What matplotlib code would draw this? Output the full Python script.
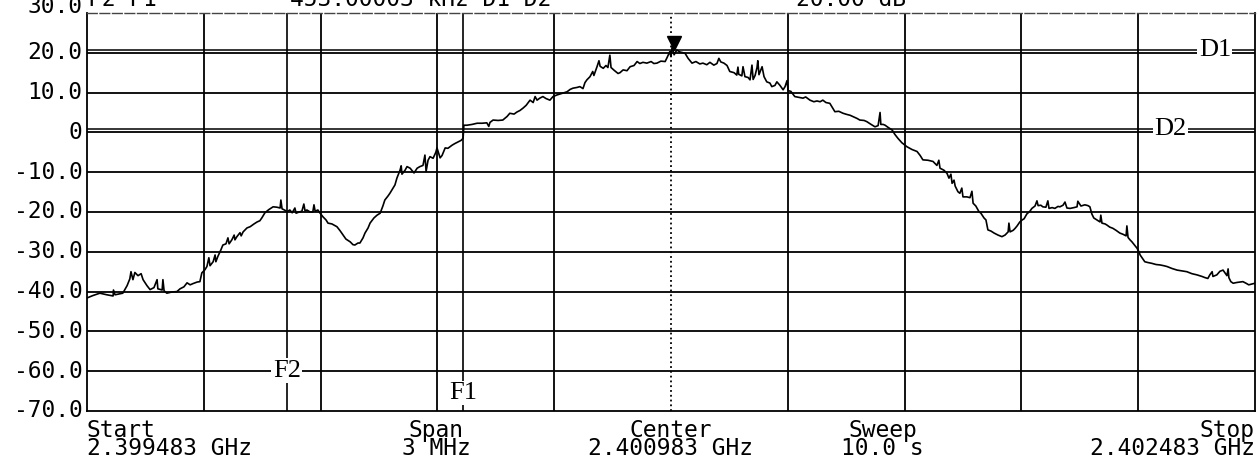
import matplotlib
matplotlib.use("Agg")
import matplotlib.pyplot as plt
from matplotlib.transforms import offset_copy

# sweep 2.399483 .. 2.402483 GHz, x given as offset from start in kHz
START_LABEL = "2.399483 GHz"
SPAN_LABEL = "3 MHz"
CENTER_LABEL = "2.400983 GHz"
SWEEP_LABEL = "10.0 s"
STOP_LABEL = "2.402483 GHz"
SPAN_KHZ = 3000

freq_khz = [
    0, 15, 33, 51, 67, 68, 72, 92, 103, 110, 113, 118, 123, 131, 139, 144,
    154, 162, 172, 180, 182, 193, 195, 198, 205, 218, 231, 239, 249, 257,
    265, 272, 283, 290, 295, 303, 308, 313, 316, 324, 329, 331, 336, 344,
    349, 357, 362, 365, 372, 378, 380, 385, 393, 396, 401, 411, 419, 429,
    437, 444, 449, 457, 467, 478, 488, 496, 498, 501, 509, 514, 521, 527,
    534, 537, 545, 552, 557, 560, 565, 573, 580, 583, 586, 593, 598, 606,
    614, 619, 629, 642, 650, 658, 665, 676, 683, 688, 696, 701, 709, 714,
    722, 727, 737, 745, 753, 760, 765, 773, 778, 786, 791, 796, 804, 807,
    809, 817, 822, 830, 840, 848, 855, 863, 868, 871, 876, 881, 889, 896,
    899, 904, 907, 912, 920, 927, 938, 945, 953, 961, 966, 968, 976, 989,
    1002, 1015, 1027, 1032, 1035, 1043, 1056, 1068, 1079, 1086, 1097, 1104,
    1112, 1120, 1128, 1138, 1146, 1151, 1156, 1163, 1171, 1179, 1189, 1197,
    1207, 1220, 1233, 1241, 1248, 1259, 1266, 1274, 1279, 1284, 1292, 1299,
    1302, 1310, 1315, 1318, 1326, 1333, 1338, 1343, 1346, 1354, 1364, 1369,
    1377, 1387, 1395, 1405, 1413, 1420, 1428, 1438, 1449, 1456, 1464, 1474,
    1485, 1490, 1497, 1500, 1503, 1508, 1515, 1523, 1536, 1544, 1554, 1564,
    1574, 1582, 1592, 1600, 1610, 1618, 1623, 1628, 1636, 1644, 1651, 1662,
    1669, 1672, 1674, 1682, 1685, 1690, 1698, 1703, 1708, 1711, 1716, 1721,
    1723, 1726, 1734, 1739, 1746, 1754, 1759, 1767, 1772, 1780, 1788, 1793,
    1798, 1801, 1808, 1818, 1829, 1839, 1846, 1857, 1867, 1875, 1883, 1890,
    1898, 1908, 1916, 1921, 1931, 1942, 1952, 1960, 1967, 1978, 1985, 1996,
    2003, 2014, 2024, 2032, 2037, 2039, 2045, 2050, 2057, 2068, 2075, 2083,
    2093, 2106, 2119, 2132, 2140, 2147, 2160, 2173, 2183, 2188, 2191, 2201,
    2209, 2214, 2219, 2222, 2227, 2230, 2237, 2242, 2247, 2250, 2260, 2268,
    2273, 2276, 2283, 2291, 2296, 2304, 2309, 2314, 2322, 2330, 2340, 2350,
    2358, 2366, 2368, 2371, 2379, 2384, 2389, 2396, 2402, 2407, 2414, 2422,
    2427, 2435, 2440, 2443, 2450, 2455, 2463, 2468, 2471, 2479, 2486, 2494,
    2499, 2507, 2512, 2517, 2525, 2535, 2543, 2545, 2553, 2563, 2571, 2576,
    2581, 2586, 2594, 2602, 2604, 2607, 2615, 2620, 2627, 2635, 2643, 2653,
    2661, 2669, 2671, 2674, 2679, 2684, 2692, 2697, 2702, 2705, 2710, 2717,
    2725, 2735, 2746, 2756, 2766, 2774, 2787, 2800, 2813, 2825, 2838, 2851,
    2864, 2872, 2879, 2884, 2890, 2892, 2902, 2910, 2918, 2923, 2928, 2931,
    2933, 2938, 2944, 2954, 2962, 2969, 2977, 2984, 2992, 3000,
]

level_db = [
    -41.6, -41.0, -40.4, -40.8, -41.1, -39.6, -40.8, -40.4, -38.5, -36.8,
    -35.0, -37.0, -35.2, -36.0, -35.5, -37.0, -38.5, -39.5, -39.0, -37.0,
    -39.3, -39.6, -37.0, -39.8, -40.4, -40.1, -40.0, -39.3, -38.8, -37.8,
    -38.3, -38.0, -37.6, -37.5, -35.3, -34.5, -33.7, -31.5, -33.5, -32.5,
    -30.8, -32.5, -31.2, -29.5, -28.3, -28.0, -26.5, -28.0, -27.0, -25.8,
    -27.0, -26.2, -25.2, -26.0, -25.0, -24.0, -23.7, -23.0, -22.5, -22.2,
    -21.5, -20.2, -19.4, -18.7, -18.8, -19.0, -17.0, -19.2, -19.6, -19.9,
    -19.5, -20.2, -19.0, -20.3, -20.0, -19.8, -18.0, -19.7, -19.5, -20.0,
    -20.0, -18.2, -19.8, -19.5, -20.2, -21.2, -22.0, -22.8, -23.0, -23.7,
    -24.7, -25.8, -26.8, -27.5, -28.2, -28.3, -27.8, -27.8, -26.5, -25.3,
    -24.0, -22.8, -21.5, -20.8, -20.3, -18.5, -17.0, -16.0, -15.3, -14.0,
    -13.2, -11.5, -9.5, -8.4, -10.5, -9.5, -8.6, -9.0, -10.2, -9.0,
    -8.6, -8.3, -5.7, -9.8, -7.0, -6.1, -6.5, -5.0, -3.9, -5.5,
    -6.4, -5.8, -3.9, -4.0, -3.2, -2.8, -2.4, -2.0, -1.5, 1.8,
    1.8, 2.0, 2.3, 2.3, 2.4, 1.5, 2.5, 3.1, 3.0, 3.1,
    4.0, 4.8, 4.6, 5.1, 5.5, 6.1, 6.8, 8.1, 7.5, 9.0,
    8.1, 8.6, 9.0, 8.5, 8.1, 9.0, 9.4, 9.8, 10.2, 10.8,
    11.1, 11.3, 11.5, 11.0, 12.5, 13.2, 14.0, 15.3, 14.3, 16.5,
    18.0, 16.6, 16.1, 16.8, 16.3, 19.4, 16.3, 15.6, 14.8, 15.0,
    15.7, 15.5, 16.5, 16.8, 17.8, 17.3, 17.6, 17.4, 17.8, 17.3,
    17.4, 17.9, 17.8, 18.8, 20.3, 19.0, 21.6, 19.5, 20.7, 20.2,
    19.9, 18.6, 17.4, 17.8, 17.2, 17.4, 17.0, 17.6, 16.9, 17.3,
    18.6, 17.7, 17.4, 16.8, 15.3, 15.0, 14.4, 16.4, 14.6, 14.2,
    16.5, 14.0, 13.8, 13.2, 16.9, 13.3, 14.3, 16.3, 18.0, 14.5,
    16.5, 14.0, 12.7, 12.4, 11.5, 11.8, 12.7, 11.8, 10.7, 11.5,
    13.0, 10.5, 10.3, 9.0, 8.8, 8.6, 8.9, 8.1, 7.7, 7.9,
    7.7, 8.1, 7.5, 7.3, 6.0, 5.2, 5.3, 4.8, 4.5, 4.3,
    4.0, 3.5, 3.1, 3.0, 2.7, 2.0, 1.4, 1.7, 5.0, 2.0,
    2.0, 1.8, 1.3, 0.6, -0.5, -1.5, -2.6, -3.6, -4.3, -4.8,
    -5.8, -6.9, -7.0, -7.3, -8.3, -7.0, -9.0, -9.5, -10.3, -11.5,
    -10.5, -12.8, -12.0, -13.5, -14.9, -15.3, -14.0, -16.2, -16.2, -16.4,
    -14.8, -17.8, -18.5, -19.9, -20.3, -21.5, -22.0, -24.5, -24.8, -25.3,
    -25.8, -26.2, -25.8, -25.0, -22.8, -25.0, -24.6, -24.1, -23.5, -22.5,
    -22.0, -21.7, -20.5, -19.8, -19.1, -18.5, -17.2, -18.4, -18.3, -18.7,
    -18.8, -17.2, -19.1, -18.9, -19.1, -18.6, -18.7, -18.3, -17.5, -19.0,
    -19.1, -18.9, -18.7, -17.3, -18.5, -18.2, -18.4, -18.7, -20.5, -21.5,
    -22.0, -22.5, -20.8, -22.8, -23.0, -23.3, -23.8, -24.1, -24.6, -25.3,
    -25.6, -26.0, -23.5, -26.4, -27.0, -27.5, -28.5, -29.1, -30.0, -30.8,
    -31.5, -32.5, -32.7, -32.9, -33.2, -33.3, -33.5, -33.7, -34.2, -34.6,
    -34.8, -35.0, -35.5, -35.8, -36.2, -36.5, -36.7, -35.8, -35.0, -36.2,
    -35.8, -34.9, -34.6, -35.3, -36.0, -34.3, -36.5, -37.5, -37.9, -37.7,
    -37.6, -37.5, -37.9, -38.3, -38.1, -37.9,
]

# reference level grid and its labels
grid_db = [30, 20, 10, 0, -10, -20, -30, -40, -50, -60, -70]
grid_labels = ["30.0", "20.0", "10.0", "0", "-10.0", "-20.0", "-30.0",
               "-40.0", "-50.0", "-60.0", "-70.0"]

# cursors: frequency markers F1/F2 and level markers D1/D2
F2_KHZ, F1_KHZ = 513, 966
D1_DB, D2_DB = 20.8, 0.8
PEAK_KHZ, PEAK_DB = 1508, 20.8
HEADER = ["F2 F1", "453.00003 kHz D1 D2", "20.00 dB"]

MONO = "DejaVu Sans Mono"
SERIF = "Liberation Serif"
FS = 16.5

fig = plt.figure(figsize=(12.59, 4.62), dpi=100, facecolor="white")
ax = fig.add_axes([0.0691, 0.1104, 0.9277, 0.8615])
ax.set_xlim(0, SPAN_KHZ)
ax.set_ylim(-70, 30)
ax.set_xticks([]); ax.set_yticks([])
for s in ("left", "right", "bottom"):
    ax.spines[s].set_linewidth(1.3)
ax.spines["top"].set_linestyle((0, (7, 2)))
ax.spines["top"].set_color("#444444")
ax.spines["top"].set_linewidth(1.0)

# graticule: 10 x 10 divisions, dotted center line
for k in range(1, 10):
    f = k * SPAN_KHZ / 10
    ax.axvline(f, color="black", lw=1.3, ls=":" if k == 5 else "-", zorder=1)
for v in grid_db[1:-1]:
    ax.axhline(v, color="black", lw=1.3, zorder=1)

# cursor lines
ax.axvline(F2_KHZ, color="black", lw=1.2, zorder=1)
ax.axvline(F1_KHZ, color="black", lw=1.2, zorder=1)
ax.axhline(D1_DB, color="black", lw=1.1, zorder=1)
ax.axhline(D2_DB, color="black", lw=1.1, zorder=1)

ax.plot(freq_khz, level_db, color="black", lw=1.2, zorder=3)

# peak marker sits on top of the trace
mk_tr = offset_copy(ax.transData, fig=fig, x=0, y=7, units="dots")
ax.plot([PEAK_KHZ], [PEAK_DB], marker="v", color="black", ms=10,
        transform=mk_tr, zorder=4, clip_on=False)

lbl_box = dict(facecolor="white", edgecolor="none", pad=1.0)
for xk, yv, s in ((F2_KHZ, -59.9, "F2"), (F1_KHZ, -65.5, "F1"),
                  (2897, D1_DB, "D1"), (2782, D2_DB, "D2")):
    ax.text(xk, yv, s, family=SERIF, fontsize=19, ha="center",
            va="center", bbox=lbl_box, zorder=5)

# level labels on the left
ytr = ax.get_yaxis_transform()
for v, s in zip(grid_db, grid_labels):
    ax.text(-0.004, v, s, transform=ytr, ha="right",
            va="baseline" if v == 30 else "center",
            family=MONO, fontsize=FS, clip_on=False)

# annotation block under the graticule
xa = ax.transAxes
rows = (-0.0653, -0.1106)
block = [
    (0.0, "left", "Start", START_LABEL),
    (0.299, "center", "Span", SPAN_LABEL),
    (0.5, "center", "Center", CENTER_LABEL),
    (0.681, "center", "Sweep", SWEEP_LABEL),
    (1.0, "right", "Stop", STOP_LABEL),
]
for xf, ha, title, value in block:
    ax.text(xf, rows[0], title, transform=xa, ha=ha, family=MONO, fontsize=FS)
    ax.text(xf, rows[1], value, transform=xa, ha=ha, family=MONO, fontsize=FS)

# cursor readout line, partly above the frame
for xc, s in zip((0.097, 0.334, 0.676), HEADER):
    fig.text(xc, 0.987, s, ha="center", va="baseline", family=MONO, fontsize=FS)

fig.savefig("out.png", dpi=100, facecolor="white")
